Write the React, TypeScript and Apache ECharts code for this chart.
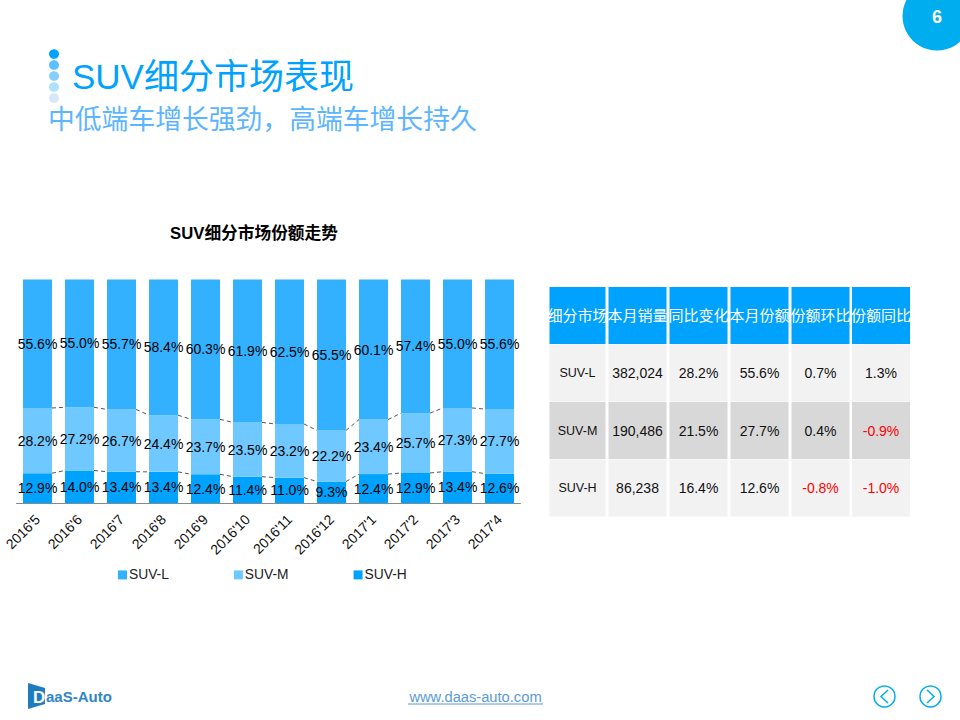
import React, { useEffect, useRef } from "react";
import * as echarts from "echarts";

const categories = ["2016'5", "2016'6", "2016'7", "2016'8", "2016'9", "2016'10", "2016'11", "2016'12", "2017'1", "2017'2", "2017'3", "2017'4"];
const suvL = [55.6, 55.0, 55.7, 58.4, 60.3, 61.9, 62.5, 65.5, 60.1, 57.4, 55.0, 55.6];
const suvM = [28.2, 27.2, 26.7, 24.4, 23.7, 23.5, 23.2, 22.2, 23.4, 25.7, 27.3, 27.7];
const suvH = [12.9, 14.0, 13.4, 13.4, 12.4, 11.4, 11.0, 9.3, 12.4, 12.9, 13.4, 12.6];

const tableHeader = ["细分市场", "本月销量", "同比变化", "本月份额", "份额环比", "份额同比"];
const tableRows = [
  ["SUV-L", "382,024", "28.2%", "55.6%", "0.7%", "1.3%"],
  ["SUV-M", "190,486", "21.5%", "27.7%", "0.4%", "-0.9%"],
  ["SUV-H", "86,238", "16.4%", "12.6%", "-0.8%", "-1.0%"],
];

const FONT = "'Liberation Sans', 'Noto Sans CJK SC', sans-serif";
const totals = suvL.map((v, i) => v + suvM[i] + suvH[i]);
const share = (arr: number[]) => arr.map((v, i) => (v / totals[i]) * 100);
const shareL = share(suvL);
const shareM = share(suvM);
const shareH = share(suvH);

const colX = [549.5, 608.5, 669.5, 730.5, 791.5, 852];
const colW = [56, 58, 58, 58, 58, 58];
const rowY = [287, 344.5, 402, 459.5];
const rowH = 57;

function tableGraphics() {
  const out: any[] = [];
  tableHeader.forEach((t, c) => {
    out.push({ type: "rect", shape: { x: colX[c], y: rowY[0], width: colW[c], height: rowH }, style: { fill: "#00A2FF" } });
    out.push({ type: "text", x: colX[c] + colW[c] / 2, y: rowY[0] + rowH / 2, style: { text: t, fill: "#fff", font: `15px ${FONT}`, align: "center", verticalAlign: "middle" } });
  });
  tableRows.forEach((row, r) => {
    row.forEach((t, c) => {
      out.push({ type: "rect", shape: { x: colX[c], y: rowY[r + 1], width: colW[c], height: rowH }, style: { fill: r === 1 ? "#D8D8D8" : "#F2F2F2" } });
      out.push({ type: "text", x: colX[c] + colW[c] / 2, y: rowY[r + 1] + rowH / 2, style: { text: t, fill: t.startsWith("-") ? "#FF0000" : "#111", font: `${c === 0 ? 12.5 : 14}px ${FONT}`, align: "center", verticalAlign: "middle" } });
    });
  });
  return out;
}

const dots = [
  [54, "#00A2FF"],
  [65, "#5CBFFF"],
  [76, "#85CFFF"],
  [87, "#B0E0FF"],
  [98, "#D6E7F5"],
] as [number, string][];

function decor() {
  const out: any[] = [
    { type: "circle", shape: { cx: 937, cy: 16, r: 34.5 }, style: { fill: "#00AEEF" } },
    { type: "text", x: 937, y: 17, style: { text: "6", fill: "#fff", font: `bold 18px ${FONT}`, align: "center", verticalAlign: "middle" } },
    { type: "text", x: 72, y: 76, style: { text: "SUV细分市场表现", fill: "#00A2FF", font: `35px ${FONT}`, align: "left", verticalAlign: "middle" } },
    { type: "text", x: 48, y: 120, style: { text: "中低端车增长强劲，高端车增长持久", fill: "#5CB5FF", font: `26.8px ${FONT}`, align: "left", verticalAlign: "middle" } },
    { type: "text", x: 254, y: 233, style: { text: "SUV细分市场份额走势", fill: "#000", font: `bold 16.7px ${FONT}`, align: "center", verticalAlign: "middle" } },
    { type: "text", x: 475.5, y: 697, style: { text: "www.daas-auto.com", fill: "#5B9BD5", font: `14.7px ${FONT}`, align: "center", verticalAlign: "middle" } },
    { type: "line", shape: { x1: 408, y1: 704, x2: 543, y2: 704 }, style: { stroke: "#5B9BD5", lineWidth: 1 } },
    { type: "polygon", shape: { points: [[28, 683], [45, 688], [45, 704], [28, 709]] }, style: { fill: "#1F7DBF" } },
    { type: "text", x: 33, y: 697, style: { text: "D", fill: "#fff", font: `bold 17px ${FONT}`, align: "left", verticalAlign: "middle" } },
    { type: "text", x: 46, y: 696, style: { text: "aaS-Auto", fill: "#2F86C6", font: `bold 15px ${FONT}`, align: "left", verticalAlign: "middle" } },
    { type: "circle", shape: { cx: 884.5, cy: 696.5, r: 10.5 }, style: { fill: "none", stroke: "#00AEEF", lineWidth: 1.5 } },
    { type: "polyline", shape: { points: [[888, 690], [881, 696.5], [888, 703]] }, style: { fill: "none", stroke: "#00AEEF", lineWidth: 1.5 } },
    { type: "circle", shape: { cx: 930.5, cy: 696.5, r: 10.5 }, style: { fill: "none", stroke: "#00AEEF", lineWidth: 1.5 } },
    { type: "polyline", shape: { points: [[927, 690], [934, 696.5], [927, 703]] }, style: { fill: "none", stroke: "#00AEEF", lineWidth: 1.5 } },
  ];
  dots.forEach(([cy, fill]) => out.push({ type: "ellipse", shape: { cx: 54, cy, rx: 5, ry: 4.8 }, style: { fill } }));
  return out;
}

function barSeries(name: string, data: number[], raw: number[], color: string) {
  return {
    name,
    type: "bar",
    stack: "share",
    barCategoryGap: "31%",
    data,
    itemStyle: { color },
    label: {
      show: true,
      position: "inside",
      color: "#000",
      fontSize: 14,
      fontFamily: FONT,
      formatter: (p: any) => raw[p.dataIndex].toFixed(1) + "%",
    },
  };
}

function connector(name: string, values: number[]) {
  return {
    name,
    type: "custom",
    silent: true,
    z: 1,
    encode: { x: 0, y: 1 },
    data: values.map((v, i) => [i, v, i + 1 < values.length ? values[i + 1] : v]),
    renderItem: (params: any, api: any) => {
      const i = api.value(0);
      if (i >= values.length - 1) return null;
      const half = api.size([1, 0])[0] * 0.345;
      const a = api.coord([i, api.value(1)]);
      const b = api.coord([i + 1, api.value(2)]);
      return {
        type: "line",
        shape: { x1: a[0] + half, y1: a[1], x2: b[0] - half, y2: b[1] },
        style: { stroke: "#555", lineWidth: 1, lineDash: [4, 3] },
      };
    },
  };
}

export default function App() {
  const ref = useRef<HTMLDivElement>(null);
  useEffect(() => {
    document.body.style.margin = "0";
    const chart = echarts.init(ref.current!, undefined, { renderer: "svg" });
    chart.setOption({
      animation: false,
      backgroundColor: "#fff",
      grid: { left: 16.5, top: 279.5, width: 504, height: 223.5, containLabel: false },
      legend: {
        data: ["SUV-L", "SUV-M", "SUV-H"],
        left: 113,
        top: 563,
        itemWidth: 9,
        itemHeight: 9,
        itemGap: 65,
        icon: "rect",
        textStyle: { color: "#222", fontSize: 13.8, fontFamily: FONT, padding: [0, 0, 0, -3] },
      },
      xAxis: {
        type: "category",
        data: categories,
        axisTick: { show: false },
        axisLine: { lineStyle: { color: "#888", width: 1 } },
        axisLabel: { rotate: 45, color: "#111", fontSize: 14, fontFamily: FONT, margin: 14, interval: 0 },
      },
      yAxis: { type: "value", min: 0, max: 100, show: false },
      series: [
        barSeries("SUV-H", shareH, suvH, "#00A2FF"),
        barSeries("SUV-M", shareM, suvM, "#6FC8FF"),
        barSeries("SUV-L", shareL, suvL, "#33B1FF"),
        connector("H-line", shareH),
        connector("M-line", shareH.map((v, i) => v + shareM[i])),
      ],
      graphic: { elements: [...decor(), ...tableGraphics()] },
    });
    return () => chart.dispose();
  }, []);
  return <div ref={ref} style={{ position: "absolute", left: 0, top: 0, width: 960, height: 720 }} />;
}
